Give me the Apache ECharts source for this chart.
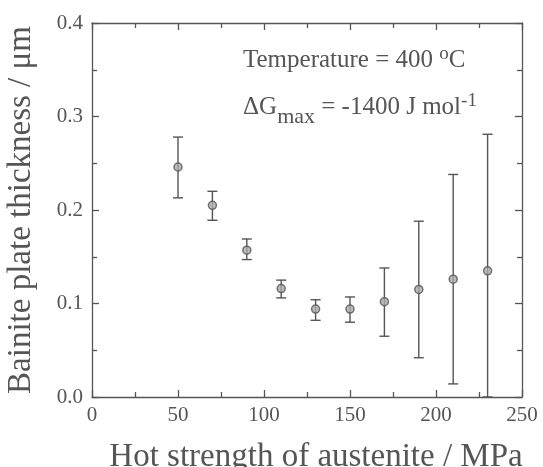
<!DOCTYPE html>
<html><head><meta charset="utf-8">
<script src="https://cdn.jsdelivr.net/npm/echarts@6/dist/echarts.min.js"></script>
<style>html,body{margin:0;padding:0;background:#fff}#c{width:543px;height:467px}</style>
</head><body><div id="c"></div>
<script>
const strength = [50, 70, 90, 110, 130, 150, 170, 190, 210, 230];
const thickness = [0.246, 0.205, 0.157, 0.116, 0.094, 0.094, 0.102, 0.115, 0.126, 0.135];
const errLow = [0.213, 0.189, 0.147, 0.106, 0.082, 0.080, 0.065, 0.042, 0.014, 0.0];
const errHigh = [0.278, 0.220, 0.169, 0.125, 0.104, 0.107, 0.138, 0.188, 0.238, 0.281];
const xTicks = [0, 50, 100, 150, 200, 250];
const yTicks = [0.0, 0.1, 0.2, 0.3, 0.4];

const C = '#555';
const FONT = 'Liberation Serif';
const chart = echarts.init(document.getElementById('c'));
const baseX = {
  type: 'value', min: 0, max: 250, interval: 50,
  axisLine: {show: true, onZero: false, lineStyle: {color: C, width: 1.3}},
  axisTick: {show: true, inside: true, length: 7, lineStyle: {color: C, width: 1.3}},
  minorTick: {show: true, splitNumber: 2, length: 5, lineStyle: {color: C, width: 1.3}},
  splitLine: {show: false}
};
const baseY = {
  type: 'value', min: 0, max: 0.4, interval: 0.1,
  axisLine: {show: true, onZero: false, lineStyle: {color: C, width: 1.3}},
  axisTick: {show: true, inside: true, length: 7, lineStyle: {color: C, width: 1.3}},
  minorTick: {show: true, splitNumber: 2, length: 5, lineStyle: {color: C, width: 1.3}},
  splitLine: {show: false}
};
chart.setOption({
  animation: false,
  grid: {left: 92, right: 21, top: 23, bottom: 70, containLabel: false, outerBoundsMode: 'none'},
  xAxis: [
    Object.assign({}, baseX, {
      position: 'bottom',
      axisLabel: {color: C, fontFamily: FONT, fontSize: 21, margin: 8,
        formatter: v => xTicks.includes(v) ? String(v) : ''},
      name: 'Hot strength of austenite / MPa', nameLocation: 'middle', nameGap: 44,
      nameTextStyle: {color: C, fontFamily: FONT, fontSize: 33, padding: [0, 0, 0, 18]}
    }),
    Object.assign({}, baseX, {position: 'top', axisLabel: {show: false}})
  ],
  yAxis: [
    Object.assign({}, baseY, {
      position: 'left',
      axisLabel: {color: C, fontFamily: FONT, fontSize: 21, margin: 9,
        formatter: v => yTicks.some(t => Math.abs(t - v) < 1e-9) ? v.toFixed(1) : ''},
      name: 'Bainite plate thickness / μm', nameLocation: 'middle', nameGap: 54,
      nameTextStyle: {color: C, fontFamily: FONT, fontSize: 33}
    }),
    Object.assign({}, baseY, {position: 'right', axisLabel: {show: false}})
  ],
  series: [
    {
      type: 'custom',
      xAxisIndex: 0, yAxisIndex: 0,
      data: strength.map((x, i) => [x, errLow[i], errHigh[i]]),
      renderItem: function (params, api) {
        const lo = api.coord([api.value(0), api.value(1)]);
        const hi = api.coord([api.value(0), api.value(2)]);
        const w = 5;
        const st = {stroke: C, lineWidth: 1.4};
        return {type: 'group', children: [
          {type: 'line', shape: {x1: lo[0], y1: lo[1], x2: hi[0], y2: hi[1]}, style: st},
          {type: 'line', shape: {x1: hi[0] - w, y1: hi[1], x2: hi[0] + w, y2: hi[1]}, style: st},
          {type: 'line', shape: {x1: lo[0] - w, y1: lo[1], x2: lo[0] + w, y2: lo[1]}, style: st}
        ]};
      },
      z: 2
    },
    {
      type: 'scatter',
      data: strength.map((x, i) => [x, thickness[i]]),
      symbol: 'circle', symbolSize: 8,
      itemStyle: {color: '#aaa', borderColor: C, borderWidth: 1.5},
      z: 3
    }
  ],
  graphic: [
    {type: 'text', left: 243, top: 45, style: {
      text: 'Temperature = 400 {sup|o}C',
      font: '25px "Liberation Serif"', fill: C,
      rich: {sup: {fontSize: 19, fontFamily: FONT, fill: C, padding: [0,0,12,0]}}
    }},
    {type: 'text', left: 243, top: 92, style: {
      text: 'ΔG{sub|max} = -1400 J mol{sup|-1}',
      font: '25px "Liberation Serif"', fill: C,
      rich: {
        sub: {fontSize: 22, fontFamily: FONT, fill: C, padding: [20,0,0,0]},
        sup: {fontSize: 19, fontFamily: FONT, fill: C, padding: [0,0,12,0]}
      }
    }}
  ]
});
</script></body></html>
